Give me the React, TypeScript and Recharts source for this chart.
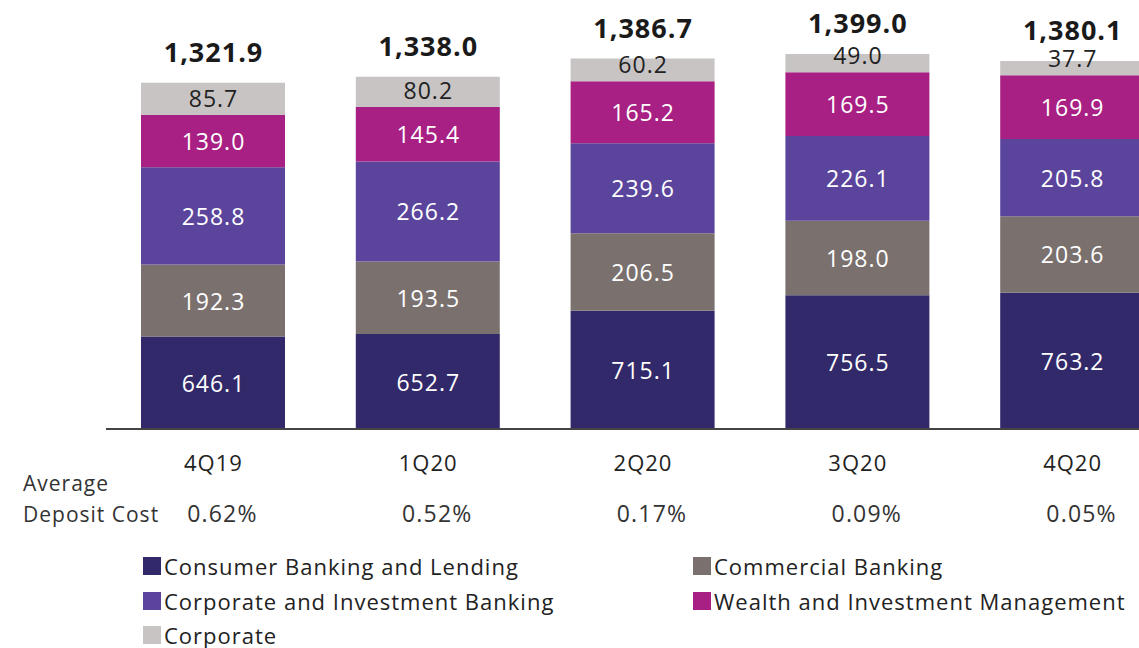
import React from "react";
import { BarChart, Bar, XAxis, YAxis, LabelList } from "recharts";

const categories = ["4Q19", "1Q20", "2Q20", "3Q20", "4Q20"];
const consumer = [646.1, 652.7, 715.1, 756.5, 763.2];
const commercial = [192.3, 193.5, 206.5, 198.0, 203.6];
const cib = [258.8, 266.2, 239.6, 226.1, 205.8];
const wim = [139.0, 145.4, 165.2, 169.5, 169.9];
const corporate = [85.7, 80.2, 60.2, 49.0, 37.7];
const totals = [1321.9, 1338.0, 1386.7, 1399.0, 1380.1];
const depositCost = ["0.62%", "0.52%", "0.17%", "0.09%", "0.05%"];

const FONT = "'Open Sans', 'Noto Sans', sans-serif";
const PLOT_BOTTOM = 429;

const series = [
  { key: "consumer", name: "Consumer Banking and Lending", color: "#32296a", text: "#ffffff" },
  { key: "commercial", name: "Commercial Banking", color: "#7a716f", text: "#ffffff" },
  { key: "cib", name: "Corporate and Investment Banking", color: "#5b459c", text: "#ffffff" },
  { key: "wim", name: "Wealth and Investment Management", color: "#a82083", text: "#ffffff" },
  { key: "corporate", name: "Corporate", color: "#c8c4c4", text: "#222222" },
];

const data = categories.map((c, i) => ({
  name: c,
  consumer: consumer[i],
  commercial: commercial[i],
  cib: cib[i],
  wim: wim[i],
  corporate: corporate[i],
}));

function segmentLabel(color: string, isTop: boolean) {
  return (props: any) => {
    const { x, y, width, height, value } = props;
    const top = Number(y);
    const bottom = Math.min(top + Number(height), PLOT_BOTTOM);
    const h = bottom - top;
    let cy = top + h / 2;
    if (isTop) cy -= Math.max(0, (34 - h) * 0.5);
    return (
      <text
        x={Number(x) + Number(width) / 2 + 0.5}
        y={cy}
        textAnchor="middle"
        dominantBaseline="central"
        fill={color}
        fontFamily={FONT}
        fontSize={23}
        letterSpacing={1}
      >
        {Number(value).toFixed(1)}
      </text>
    );
  };
}

const totalLabel = (props: any) => {
  const { x, y, width, index } = props;
  return (
    <text
      x={Number(x) + Number(width) / 2 + 0.5}
      y={Number(y) - 31}
      textAnchor="middle"
      dominantBaseline="central"
      fill="#1a1a1a"
      fontFamily={FONT}
      fontWeight={700}
      fontSize={27}
      letterSpacing={1}
    >
      {totals[index].toLocaleString("en-US", { minimumFractionDigits: 1 })}
    </text>
  );
};

const CategoryTick = (props: any) => {
  const { x, y, payload, index } = props;
  return (
    <g>
      <text x={x} y={y + 34} textAnchor="middle" fill="#222" fontFamily={FONT} fontSize={22} letterSpacing={1}>
        {payload.value}
      </text>
      <text x={x + 9} y={y + 85} textAnchor="middle" fill="#333" fontFamily={FONT} fontSize={23} letterSpacing={1.2}>
        {depositCost[index]}
      </text>
      {index === 0 && (
        <g>
          <text x={23} y={y + 54} fill="#333" fontFamily={FONT} fontSize={21} letterSpacing={1}>
            Average
          </text>
          <text x={23} y={y + 85} fill="#333" fontFamily={FONT} fontSize={21} letterSpacing={1}>
            Deposit Cost
          </text>
        </g>
      )}
    </g>
  );
};

export default function App() {
  return (
    <div
      style={{
        position: "absolute",
        left: 0,
        top: 0,
        width: 1139,
        height: 648,
        overflow: "hidden",
        background: "#fff",
      }}
    >
      <BarChart
        width={1186}
        height={648}
        data={data}
        margin={{ top: 16, right: 6, left: 106, bottom: 159 }}
        barSize={144}
      >
        <XAxis
          dataKey="name"
          height={60}
          tickLine={false}
          axisLine={{ stroke: "#444", strokeWidth: 2 }}
          tick={<CategoryTick />}
          interval={0}
        />
        <YAxis hide width={0} domain={[400, 1500]} allowDataOverflow />
        {series.map((s, i) => (
          <Bar key={s.key} dataKey={s.key} stackId="a" fill={s.color} isAnimationActive={false}>
            <LabelList dataKey={s.key} content={segmentLabel(s.text, i === series.length - 1)} />
            {i === series.length - 1 && <LabelList dataKey={s.key} content={totalLabel} />}
          </Bar>
        ))}
      </BarChart>
      <div
        style={{
          position: "absolute",
          left: 143,
          top: 549,
          width: 1000,
          display: "grid",
          gridTemplateColumns: "550px 450px",
          fontFamily: FONT,
          fontSize: 22,
          letterSpacing: 1,
          color: "#222",
        }}
      >
        {series.map((s) => (
          <div
            key={s.key}
            style={{ display: "flex", alignItems: "center", height: 34.5, lineHeight: 1, whiteSpace: "nowrap" }}
          >
            <span style={{ width: 18, height: 18, background: s.color, marginRight: 3, flexShrink: 0 }} />
            <span>{s.name}</span>
          </div>
        ))}
      </div>
    </div>
  );
}
